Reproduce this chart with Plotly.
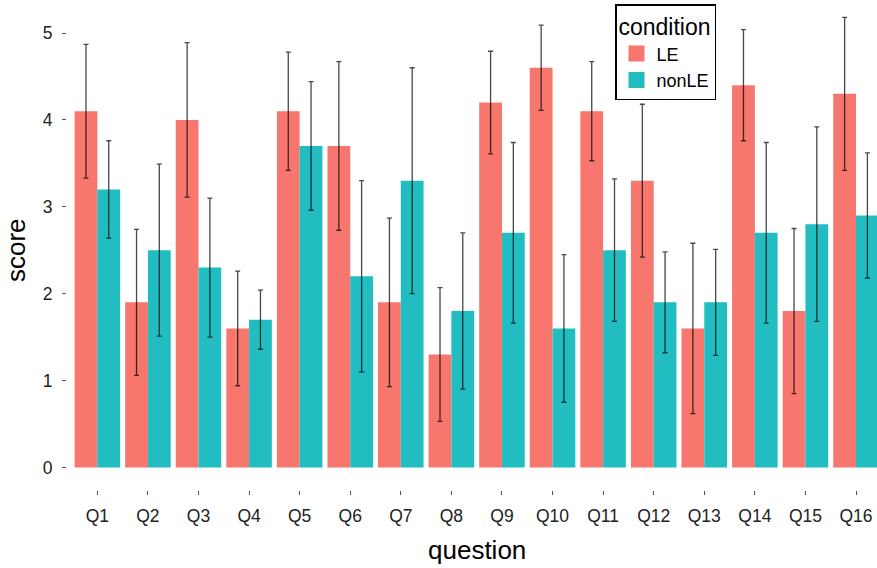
import plotly.graph_objects as go

questions = ["Q1", "Q2", "Q3", "Q4", "Q5", "Q6", "Q7", "Q8", "Q9", "Q10", "Q11", "Q12", "Q13", "Q14", "Q15", "Q16"]
le_scores = [4.1, 1.9, 4.0, 1.6, 4.1, 3.7, 1.9, 1.3, 4.2, 4.6, 4.1, 3.3, 1.6, 4.4, 1.8, 4.3]
le_err = [0.77, 0.84, 0.89, 0.66, 0.68, 0.97, 0.97, 0.77, 0.59, 0.49, 0.57, 0.88, 0.98, 0.64, 0.95, 0.88]
nonle_scores = [3.2, 2.5, 2.3, 1.7, 3.7, 2.2, 3.3, 1.8, 2.7, 1.6, 2.5, 1.9, 1.9, 2.7, 2.8, 2.9]
nonle_err = [0.56, 0.99, 0.80, 0.34, 0.74, 1.10, 1.30, 0.90, 1.04, 0.85, 0.82, 0.58, 0.61, 1.04, 1.12, 0.72]
y_ticks = [0, 1, 2, 3, 4, 5]

FONT = "Liberation Sans, Arial, sans-serif"
LE_COLOR = "#F7766E"
NONLE_COLOR = "#22BDC1"
err_style = dict(type="data", visible=True, color="rgba(0,0,0,0.72)", thickness=1.3, width=2.5)

fig = go.Figure()
fig.add_trace(go.Bar(
    x=questions, y=le_scores, name="LE", showlegend=False,
    marker=dict(color=LE_COLOR, line=dict(width=0)),
    error_y=dict(array=le_err, **err_style),
))
fig.add_trace(go.Bar(
    x=questions, y=nonle_scores, name="nonLE", showlegend=False,
    marker=dict(color=NONLE_COLOR, line=dict(width=0)),
    error_y=dict(array=nonle_err, **err_style),
))
# legend-only entries with larger square keys
for nm, col in [("LE", LE_COLOR), ("nonLE", NONLE_COLOR)]:
    fig.add_trace(go.Scatter(
        x=[None], y=[None], mode="markers", name=nm,
        marker=dict(symbol="square", size=17, color=col),
    ))

L, PLOT_W, PLOT_H = 67, 810, 490

fig.update_layout(
    width=877, height=568,
    margin=dict(l=L, r=0, t=0, b=568 - PLOT_H),
    paper_bgcolor="white", plot_bgcolor="white",
    barmode="group", bargap=0.1, bargroupgap=0,
    font=dict(family=FONT, color="#222222"),
    showlegend=True,
    legend=dict(
        title=dict(text="condition", font=dict(size=23, color="black", family=FONT)),
        font=dict(size=18, color="black", family=FONT),
        x=(615 - L) / PLOT_W, y=1 - 4 / PLOT_H, xanchor="left", yanchor="top",
        bordercolor="black", borderwidth=1.5, bgcolor="white",
        tracegroupgap=0, itemwidth=30,
    ),
    xaxis=dict(
        type="category", range=[-0.6, 15.415],
        showgrid=False, zeroline=False, showline=False,
        ticks="outside", ticklen=4, tickwidth=1, tickcolor="#555555",
        tickfont=dict(size=17.5, color="#222222"), ticklabelstandoff=6,
        ticklabeloverflow="allow",
    ),
    yaxis=dict(
        range=[-0.26, 5.38], tickvals=y_ticks,
        showgrid=False, zeroline=False, showline=False,
        ticks="outside", ticklen=4, tickwidth=1, tickcolor="#555555",
        tickfont=dict(size=17.5, color="#222222"), ticklabelstandoff=6,
    ),
    annotations=[
        dict(
            text="question", xref="paper", yref="paper",
            x=(477 - L) / PLOT_W, y=1 - 550 / PLOT_H, yanchor="middle", xanchor="center",
            showarrow=False, font=dict(size=26, color="black", family=FONT),
        ),
        dict(
            text="score", xref="paper", yref="paper", textangle=-90,
            x=(16 - L) / PLOT_W, y=1 - 250 / PLOT_H, yanchor="middle", xanchor="center",
            showarrow=False, font=dict(size=26, color="black", family=FONT),
        ),
    ],
)

fig.write_html(
    "out.html",
    config={"displayModeBar": False},
    post_script="document.body.style.margin='0';document.body.style.overflow='hidden';",
)
